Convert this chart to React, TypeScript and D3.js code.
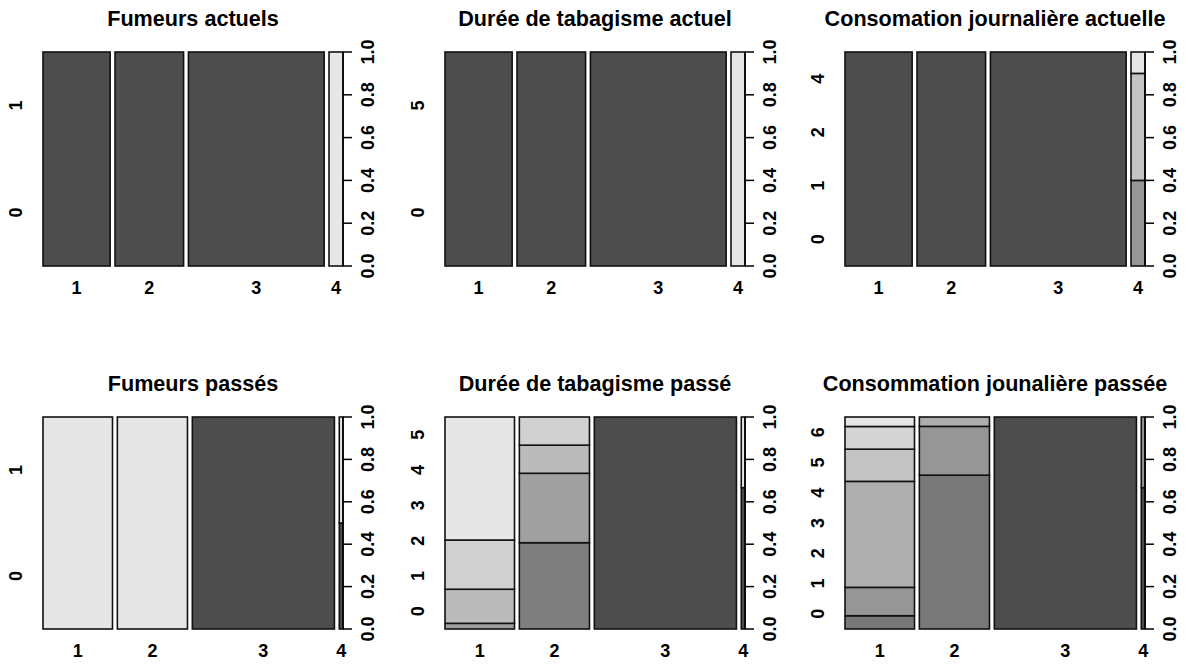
import React from "react";
import * as d3 from "d3";

// ---------- data ----------
const titles = [
  "Fumeurs actuels",
  "Durée de tabagisme actuel",
  "Consomation journalière actuelle",
  "Fumeurs passés",
  "Durée de tabagisme passé",
  "Consommation jounalière passée",
];

const xLabels = ["1", "2", "3", "4"];

const yLevelsFumeursActuels = ["0", "1"];
const yLevelsDureeActuel = ["0", "5"];
const yLevelsConsoActuelle = ["0", "1", "2", "4"];
const yLevelsFumeursPasses = ["0", "1"];
const yLevelsDureePasse = ["0", "1", "2", "3", "4", "5"];
const yLevelsConsoPassee = ["0", "1", "2", "3", "4", "5", "6"];

// counts: one row per x category (1..4), one column per y level
const countsFumeursActuels = [[48, 0], [49, 0], [97, 0], [0, 10]];
const countsDureeActuel = [[48, 0], [49, 0], [97, 0], [0, 10]];
const countsConsoActuelle = [[48, 0, 0, 0], [49, 0, 0, 0], [97, 0, 0, 0], [0, 4, 5, 1]];
const countsFumeursPasses = [[0, 112], [0, 113], [229, 0], [3, 3]];
const countsDureePasse = [
  [0, 0, 3, 18, 26, 65],
  [0, 46, 37, 15, 15, 0],
  [229, 0, 0, 0, 0, 0],
  [4, 0, 0, 0, 0, 2],
];
const countsConsoPassee = [
  [0, 7, 15, 56, 17, 12, 5],
  [0, 82, 26, 5, 0, 0, 0],
  [229, 0, 0, 0, 0, 0, 0],
  [4, 0, 2, 0, 0, 0, 0],
];

const rightTicks = [0, 0.2, 0.4, 0.6, 0.8, 1.0];

const panels = [
  { title: titles[0], levels: yLevelsFumeursActuels, counts: countsFumeursActuels },
  { title: titles[1], levels: yLevelsDureeActuel, counts: countsDureeActuel },
  { title: titles[2], levels: yLevelsConsoActuelle, counts: countsConsoActuelle },
  { title: titles[3], levels: yLevelsFumeursPasses, counts: countsFumeursPasses },
  { title: titles[4], levels: yLevelsDureePasse, counts: countsDureePasse },
  { title: titles[5], levels: yLevelsConsoPassee, counts: countsConsoPassee },
];

// ---------- layout ----------
const W = 1191;
const H = 664;
const colLefts = [43, 445, 845];
const plotW = 300;
const rowTops = [52, 417];
const rowBottoms = [266, 629];
const OFF = 0.017;
const FONT = "'Liberation Sans', Arial, Helvetica, sans-serif";

function grayColors(n: number): string[] {
  const s = Math.pow(0.3, 2.2);
  const e = Math.pow(0.9, 2.2);
  const out: string[] = [];
  for (let i = 0; i < n; i++) {
    const v = n === 1 ? s : s + ((e - s) * i) / (n - 1);
    const g = Math.min(255, Math.floor(Math.pow(v, 1 / 2.2) * 255 + 0.5));
    out.push(d3.rgb(g, g, g).formatHex());
  }
  return out;
}

function Panel({ idx }: { idx: number }) {
  const p = panels[idx];
  const col = idx % 3;
  const row = Math.floor(idx / 3);
  const left = colLefts[col];
  const right = left + plotW;
  const top = rowTops[row];
  const bottom = rowBottoms[row];
  const nx = p.counts.length;
  const ny = p.levels.length;
  const colors = grayColors(ny);

  const totals = p.counts.map((r) => d3.sum(r));
  const grand = d3.sum(totals);
  const xat: number[] = [0];
  totals.forEach((t, i) => xat.push(xat[i] + t / grand + OFF));

  const x = d3.scaleLinear().domain([0, 1 + OFF * (nx - 1)]).range([left, right]);
  const y = d3.scaleLinear().domain([0, 1]).range([bottom, top]);

  const rects: JSX.Element[] = [];
  p.counts.forEach((r, i) => {
    const tot = d3.sum(r);
    let cum = 0;
    r.forEach((c, j) => {
      const y0 = cum;
      cum += tot > 0 ? c / tot : 0;
      const y1 = j === ny - 1 ? 1 : cum;
      const x0 = x(xat[i]);
      const x1 = x(xat[i + 1] - OFF);
      rects.push(
        <rect
          key={`${i}-${j}`}
          x={x0}
          y={y(y1)}
          width={Math.max(0, x1 - x0)}
          height={Math.max(0, y(y0) - y(y1))}
          fill={colors[j]}
          stroke="#111"
          strokeWidth={1.6}
        />
      );
    });
  });

  const yat = d3.range(ny).map((k) => (2 * k + 1) / (2 * ny));

  return (
    <g>
      <text
        x={(left + right) / 2}
        y={top - 26}
        textAnchor="middle"
        fontFamily={FONT}
        fontWeight="bold"
        fontSize={21.6}
        fill="#000"
      >
        {p.title}
      </text>
      {rects}
      {p.levels.map((lab, k) => (
        <text
          key={`yl${k}`}
          transform={`translate(${left - 21},${y(yat[k])}) rotate(-90)`}
          textAnchor="middle"
          fontFamily={FONT}
          fontWeight="bold"
          fontSize={18}
          fill="#000"
        >
          {lab}
        </text>
      ))}
      {xLabels.map((lab, i) => (
        <text
          key={`xl${i}`}
          x={x((xat[i] + xat[i + 1] - OFF) / 2)}
          y={bottom + 28}
          textAnchor="middle"
          fontFamily={FONT}
          fontWeight="bold"
          fontSize={18}
          fill="#000"
        >
          {lab}
        </text>
      ))}
      <line x1={right} x2={right} y1={y(0)} y2={y(1)} stroke="#000" strokeWidth={1.5} />
      {rightTicks.map((t) => (
        <g key={`rt${t}`}>
          <line x1={right} x2={right + 9} y1={y(t)} y2={y(t)} stroke="#000" strokeWidth={1.5} />
          <text
            transform={`translate(${right + 31},${y(t)}) rotate(-90)`}
            textAnchor="middle"
            fontFamily={FONT}
            fontWeight="bold"
            fontSize={18}
            fill="#000"
          >
            {d3.format(".1f")(t)}
          </text>
        </g>
      ))}
    </g>
  );
}

export default function App() {
  return (
    <svg
      width={W}
      height={H}
      viewBox={`0 0 ${W} ${H}`}
      style={{ position: "absolute", left: 0, top: 0, background: "#fff" }}
    >
      <rect x={0} y={0} width={W} height={H} fill="#fff" />
      {panels.map((_, i) => (
        <Panel key={i} idx={i} />
      ))}
    </svg>
  );
}
